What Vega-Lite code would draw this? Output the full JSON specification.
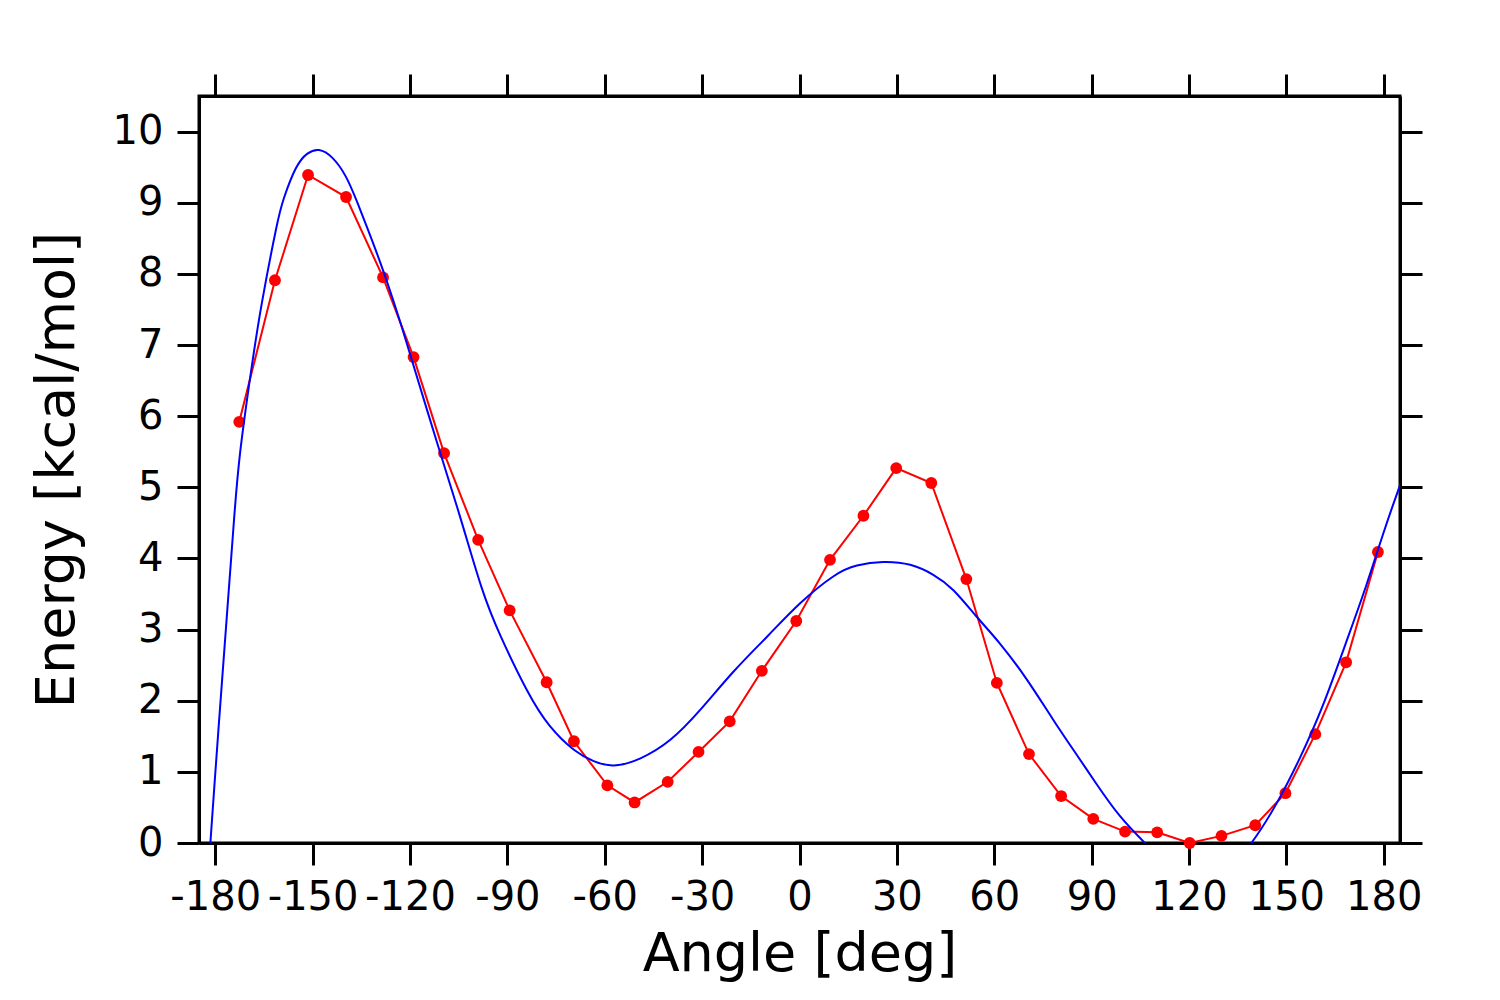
{
  "$schema": "https://vega.github.io/schema/vega-lite/v6.json",
  "width": 1201,
  "height": 747,
  "autosize": {"type": "none"},
  "padding": {"left": 199, "top": 96, "right": 100, "bottom": 157},
  "background": "white",
  "datasets": {
    "scan": [
      {"angle": -172.6, "energy": 5.92},
      {"angle": -161.6, "energy": 7.91},
      {"angle": -151.4, "energy": 9.39},
      {"angle": -139.7, "energy": 9.08},
      {"angle": -128.3, "energy": 7.95},
      {"angle": -118.9, "energy": 6.83},
      {"angle": -109.5, "energy": 5.48},
      {"angle": -99.0, "energy": 4.26},
      {"angle": -89.3, "energy": 3.27},
      {"angle": -77.9, "energy": 2.26},
      {"angle": -69.5, "energy": 1.43},
      {"angle": -59.2, "energy": 0.81},
      {"angle": -50.8, "energy": 0.57},
      {"angle": -40.6, "energy": 0.86},
      {"angle": -31.1, "energy": 1.28},
      {"angle": -21.5, "energy": 1.71},
      {"angle": -11.6, "energy": 2.42},
      {"angle": -1.0, "energy": 3.12},
      {"angle": 9.4, "energy": 3.98},
      {"angle": 19.7, "energy": 4.6},
      {"angle": 29.8, "energy": 5.27},
      {"angle": 40.6, "energy": 5.06},
      {"angle": 51.4, "energy": 3.71},
      {"angle": 60.8, "energy": 2.25},
      {"angle": 70.7, "energy": 1.25},
      {"angle": 80.6, "energy": 0.66},
      {"angle": 90.5, "energy": 0.34},
      {"angle": 100.3, "energy": 0.16},
      {"angle": 110.2, "energy": 0.15},
      {"angle": 120.2, "energy": 0.0},
      {"angle": 130.0, "energy": 0.1},
      {"angle": 140.4, "energy": 0.25},
      {"angle": 149.7, "energy": 0.7},
      {"angle": 158.9, "energy": 1.53},
      {"angle": 168.4, "energy": 2.54},
      {"angle": 178.2, "energy": 4.09}
    ],
    "fit": [
      {"angle": -185.0, "energy": -2.3},
      {"angle": -181.5, "energy": 0.0},
      {"angle": -179.0, "energy": 1.6},
      {"angle": -176.0, "energy": 3.45},
      {"angle": -174.2, "energy": 4.55},
      {"angle": -172.3, "energy": 5.5},
      {"angle": -169.0, "energy": 6.62},
      {"angle": -165.6, "energy": 7.6},
      {"angle": -161.3, "energy": 8.62},
      {"angle": -158.8, "energy": 9.07},
      {"angle": -155.2, "energy": 9.48},
      {"angle": -151.6, "energy": 9.69},
      {"angle": -148.0, "energy": 9.74},
      {"angle": -143.9, "energy": 9.63},
      {"angle": -139.8, "energy": 9.37},
      {"angle": -136.2, "energy": 9.0},
      {"angle": -132.1, "energy": 8.52},
      {"angle": -128.0, "energy": 8.01},
      {"angle": -123.9, "energy": 7.45},
      {"angle": -120.3, "energy": 6.92},
      {"angle": -111.6, "energy": 5.62},
      {"angle": -104.4, "energy": 4.56},
      {"angle": -98.0, "energy": 3.6},
      {"angle": -92.0, "energy": 2.9},
      {"angle": -84.0, "energy": 2.15},
      {"angle": -77.0, "energy": 1.65},
      {"angle": -69.5, "energy": 1.31},
      {"angle": -63.4, "energy": 1.15},
      {"angle": -57.2, "energy": 1.09},
      {"angle": -49.0, "energy": 1.19},
      {"angle": -39.8, "energy": 1.45},
      {"angle": -30.6, "energy": 1.87},
      {"angle": -20.3, "energy": 2.41},
      {"angle": -10.0, "energy": 2.9},
      {"angle": 0.2, "energy": 3.37},
      {"angle": 10.5, "energy": 3.75},
      {"angle": 17.7, "energy": 3.9},
      {"angle": 25.8, "energy": 3.95},
      {"angle": 34.1, "energy": 3.91},
      {"angle": 41.2, "energy": 3.77},
      {"angle": 47.5, "energy": 3.55},
      {"angle": 54.6, "energy": 3.18},
      {"angle": 61.8, "energy": 2.8},
      {"angle": 70.0, "energy": 2.3},
      {"angle": 78.2, "energy": 1.73},
      {"angle": 85.4, "energy": 1.24},
      {"angle": 91.5, "energy": 0.83},
      {"angle": 98.7, "energy": 0.38},
      {"angle": 106.4, "energy": 0.0},
      {"angle": 114.0, "energy": -0.32},
      {"angle": 122.0, "energy": -0.48},
      {"angle": 131.0, "energy": -0.38},
      {"angle": 139.2, "energy": 0.0},
      {"angle": 146.9, "energy": 0.55},
      {"angle": 154.1, "energy": 1.19},
      {"angle": 161.2, "energy": 1.93},
      {"angle": 168.4, "energy": 2.82},
      {"angle": 174.6, "energy": 3.62},
      {"angle": 179.7, "energy": 4.33},
      {"angle": 184.3, "energy": 4.94},
      {"angle": 186.0, "energy": 5.15}
    ]
  },
  "layer": [
    {
      "data": {"name": "scan"},
      "mark": {
        "type": "line",
        "color": "#ff0000",
        "strokeWidth": 2,
        "point": {"filled": true, "size": 140, "color": "#ff0000"}
      },
      "encoding": {
        "x": {
          "field": "angle",
          "type": "quantitative",
          "scale": {"domain": [-185, 185], "nice": false, "zero": false},
          "axis": {
            "orient": "bottom",
            "title": "Angle [deg]",
            "values": [-180, -150, -120, -90, -60, -30, 0, 30, 60, 90, 120, 150, 180],
            "labelExpr": "'' + datum.value",
            "labelPadding": 12,
            "titlePadding": 10
          }
        },
        "y": {
          "field": "energy",
          "type": "quantitative",
          "scale": {"domain": [0, 10.5], "nice": false},
          "axis": {
            "orient": "left",
            "title": "Energy [kcal/mol]",
            "values": [0, 1, 2, 3, 4, 5, 6, 7, 8, 9, 10],
            "labelExpr": "'' + datum.value",
            "labelPadding": 14,
            "titlePadding": 28
          }
        }
      }
    },
    {
      "data": {"name": "fit"},
      "mark": {
        "type": "line",
        "color": "#0000ff",
        "strokeWidth": 2,
        "interpolate": "natural",
        "clip": true
      },
      "encoding": {
        "x": {
          "field": "angle",
          "type": "quantitative",
          "axis": {
            "orient": "top",
            "title": null,
            "labels": false,
            "values": [-180, -150, -120, -90, -60, -30, 0, 30, 60, 90, 120, 150, 180]
          }
        },
        "y": {
          "field": "energy",
          "type": "quantitative",
          "axis": {
            "orient": "right",
            "title": null,
            "labels": false,
            "values": [0, 1, 2, 3, 4, 5, 6, 7, 8, 9, 10]
          }
        }
      }
    }
  ],
  "resolve": {"axis": {"x": "independent", "y": "independent"}},
  "config": {
    "view": {"stroke": "black", "strokeWidth": 3},
    "axis": {
      "grid": false,
      "domainColor": "black",
      "domainWidth": 3,
      "tickColor": "black",
      "tickWidth": 3,
      "tickSize": 22,
      "labelFont": "DejaVu Sans",
      "labelFontSize": 40,
      "labelColor": "black",
      "titleFont": "DejaVu Sans",
      "titleFontSize": 54,
      "titleFontWeight": "normal",
      "titleColor": "black"
    }
  }
}
